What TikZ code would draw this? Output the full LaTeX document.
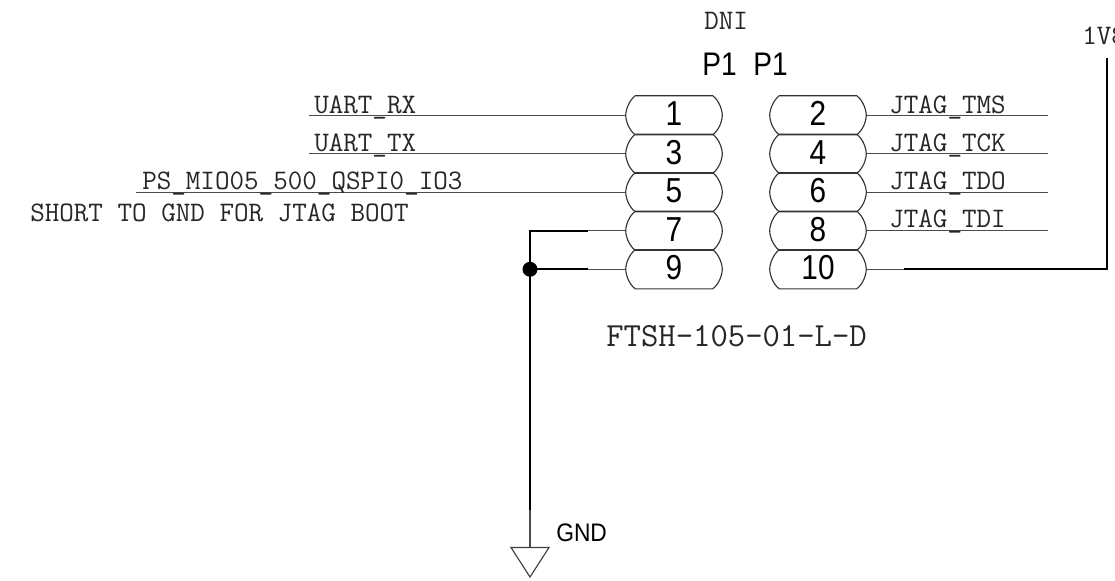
\documentclass[tikz,border=0pt]{standalone}
\usepackage{fontspec}
\newfontfamily\labelsans{Liberation Sans}
\newfontfamily\narrowsans[FakeStretch=0.9]{Liberation Sans}
\newfontfamily\tightsans[FakeStretch=0.86]{Liberation Sans}
\newcommand{\pinbox}[4]{%
  \node[pinnode] (#1) at (#2,#3) {#4};
  \draw[pinline] ([xshift=7.1pt]#1.north west)
    .. controls ([xshift=2.2pt,yshift=-3.8pt]#1.north west) and ([yshift=3.8pt]#1.west) .. (#1.west)
    .. controls ([yshift=-3.8pt]#1.west) and ([xshift=2.2pt,yshift=3.8pt]#1.south west) .. ([xshift=7.1pt]#1.south west)
    -- ([xshift=-7.1pt]#1.south east)
    .. controls ([xshift=-2.2pt,yshift=3.8pt]#1.south east) and ([yshift=-3.8pt]#1.east) .. (#1.east)
    .. controls ([yshift=3.8pt]#1.east) and ([xshift=-2.2pt,yshift=-3.8pt]#1.north east) .. ([xshift=-7.1pt]#1.north east)
    -- cycle;%
}
\tikzset{
  x=.75pt,y=-.75pt,
  pinnode/.style={inner sep=0pt,minimum width=72pt,minimum height=28.9pt,text height=15.5pt,text depth=0pt,font=\tightsans\fontsize{26}{26}\selectfont},
  pinline/.style={draw=black!80,line width=.85pt},
  wire/.style={draw=black!70,line width=1.05pt},
  net/.style={draw=black,line width=1.3pt},
  sig/.style={anchor=base west,inner sep=0pt,font=\ttfamily\fontsize{21.2}{22}\selectfont,text=black!85},
  partlbl/.style={anchor=base west,inner sep=0pt,font=\ttfamily\fontsize{25.3}{26}\selectfont,text=black!85},
  reflbl/.style={anchor=base west,inner sep=0pt,font=\tightsans\fontsize{24.5}{25}\selectfont},
  gndlbl/.style={anchor=base west,inner sep=0pt,font=\narrowsans\fontsize{19}{19}\selectfont},
  dot/.style={circle,fill=black,inner sep=0pt,minimum size=11.2pt},
  gndsym/.style={draw=black!75,line width=.85pt,fill=white},
}
\begin{document}
\begin{tikzpicture}
\useasboundingbox (0,0) rectangle (1115,581);
\clip (0,0) rectangle (1115,581);
% pins
\pinbox{p1}{674}{115.3}{1}
\pinbox{p3}{674}{153.8}{3}
\pinbox{p5}{674}{192.3}{5}
\pinbox{p7}{674}{230.8}{7}
\pinbox{p9}{674}{269.3}{9}
\pinbox{p2}{818}{115.3}{2}
\pinbox{p4}{818}{153.8}{4}
\pinbox{p6}{818}{192.3}{6}
\pinbox{p8}{818}{230.8}{8}
\pinbox{p10}{818}{269.3}{10}
% free ends
\coordinate (rx) at (309,115.3);
\coordinate (tx) at (309,153.8);
\coordinate (io) at (136,192.3);
\coordinate (tms) at (1048,115.3);
\coordinate (tck) at (1048,153.8);
\coordinate (tdo) at (1048,192.3);
\coordinate (tdi) at (1048,230.8);
\coordinate (corner7) at (530,230.8);
\coordinate (b7) at (588,230.8);
\coordinate (b9) at (588,269.3);
\coordinate (b10) at (904,269.3);
\coordinate (corner10) at (1107,269.3);
\coordinate (vcc) at (1107,58);
\coordinate (gndmid) at (530,510);
\node[dot] (jn) at (530,269.3) {};
\coordinate (gndtop) at (530,547.5);
% wires
\draw[wire] (rx) -- (p1.west);
\draw[wire] (tx) -- (p3.west);
\draw[wire] (io) -- (p5.west);
\draw[wire] (p2.east) -- (tms);
\draw[wire] (p4.east) -- (tck);
\draw[wire] (p6.east) -- (tdo);
\draw[wire] (p8.east) -- (tdi);
\draw[wire] (b7) -- (p7.west);
\draw[wire] (b9) -- (p9.west);
\draw[wire] (p10.east) -- (b10);
\draw[net] (b7) -- (corner7) -- (jn.center);
\draw[net] (jn.center) -- (b9);
\draw[net] (jn.center) -- (gndmid);
\draw[wire] (gndmid) -- (gndtop);
\draw[net] (b10) -- (corner10) -- (vcc);
% ground symbol
\draw[gndsym] (gndtop) -- ++(-19,0) -- ++(19,29.5) -- ++(19,-29.5) -- cycle;
% labels
\node[sig] (lrx) at (314,113.5) {UART\_RX};
\node[sig] (ltx) at (314,151.5) {UART\_TX};
\node[sig] (lio) at (142,190) {PS\_MIO05\_500\_QSPI0\_IO3};
\node[sig] (lshort) at (30,222) {SHORT TO GND FOR JTAG BOOT};
\node[sig] (ltms) at (889,113.5) {JTAG\_TMS};
\node[sig] (ltck) at (889,151.5) {JTAG\_TCK};
\node[sig] (ltdo) at (889,190) {JTAG\_TDO};
\node[sig] (ltdi) at (889,228) {JTAG\_TDI};
\node[sig] (ldni) at (704,30) {DNI};
\node[sig] (lv) at (1082,45) {1V8};
\node[partlbl] (lpart) at (606,347) {FTSH-105-01-L-D};
\node[reflbl] (lp1) at (702,76) {P1};
\node[reflbl] (lp2) at (753,76) {P1};
\node[gndlbl] (lgnd) at (556,541) {GND};
\end{tikzpicture}
\end{document}
